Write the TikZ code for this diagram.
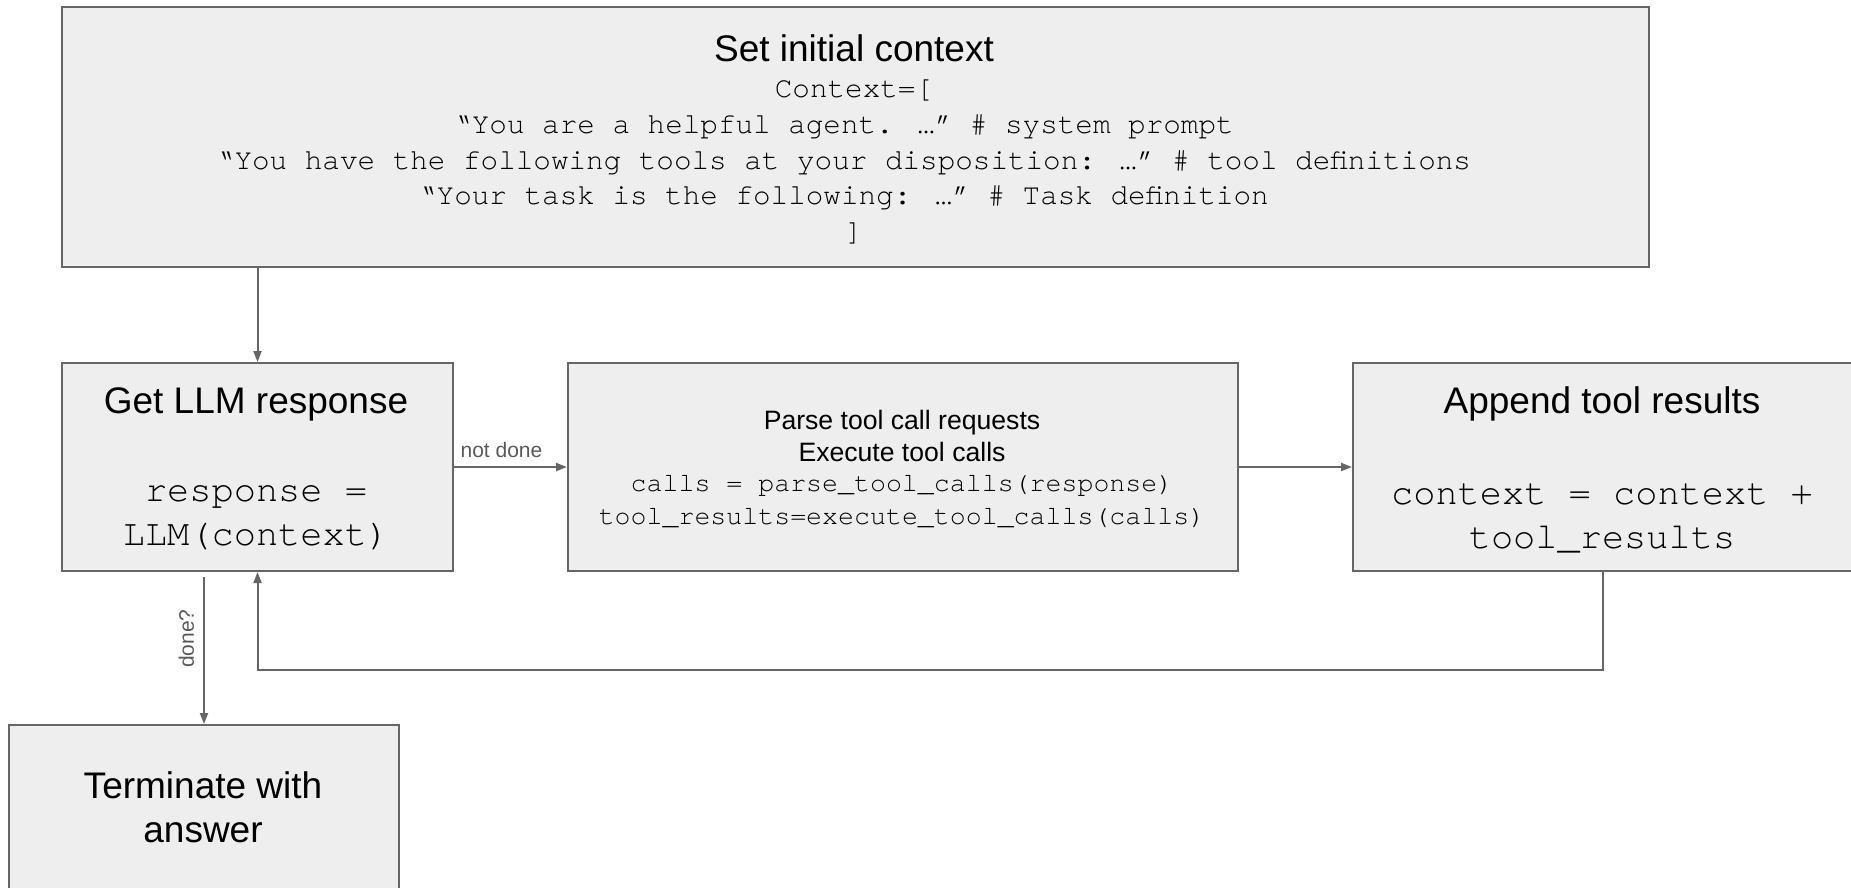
\documentclass[tikz,border=0pt]{standalone}
\usepackage{fontspec}
\setmainfont{Liberation Sans}
\newfontfamily\codefont{TeX Gyre Cursor}
\usetikzlibrary{arrows.meta}
\definecolor{boxfill}{HTML}{EEEEEE}
\definecolor{edgegray}{HTML}{666666}
\definecolor{labelgray}{HTML}{595959}
\tikzset{
  box/.style={draw=edgegray, fill=boxfill, line width=2pt, rectangle,
              inner sep=0pt, anchor=north west},
  bigtitle/.style={font=\fontsize{37}{44}\selectfont, align=center, inner sep=0pt},
  bigcode/.style={font=\codefont\fontsize{37}{44}\selectfont, align=center, inner sep=0pt},
  ctxcode/.style={font=\codefont\fontsize{29.3}{35.8}\selectfont, align=center, inner sep=0pt},
  midsans/.style={font=\fontsize{26.6}{32}\selectfont, align=center, inner sep=0pt},
  midcode/.style={font=\codefont\fontsize{26.6}{33}\selectfont, align=center, inner sep=0pt},
  flow/.style={draw=edgegray, line width=2pt, -{Triangle[length=11pt, width=8pt]}},
  edgelabel/.style={font=\fontsize{21}{24}\selectfont, text=labelgray, inner sep=3pt}
}
% trailing blank cell after a code line
\newcommand{\tailgap}{\mbox{}\hspace*{20pt}\mbox{}}
\begin{document}
\begin{tikzpicture}[x=1pt, y=-1pt]
\useasboundingbox (0,0) rectangle (1851,887);

% boxes
\node[box, minimum width=1587pt, minimum height=260pt] (ctx) at (61,6) {};
\node[box, minimum width=391pt, minimum height=208pt] (llm) at (61,362) {};
\node[box, minimum width=670pt, minimum height=208pt] (mid) at (567,362) {};
\node[box, minimum width=500pt, minimum height=208pt] (app) at (1352,362) {};
\node[box, minimum width=390pt, minimum height=168pt] (term) at (8,724) {};

% box contents
\node[bigtitle] (ctxtitle) at (854,48) {Set initial context};
\node[ctxcode] (ctxlist) at (854,162) {Context=[\\
“You are a helpful agent. …” \# system prompt\tailgap\\
“You have the following tools at your disposition: …” \# tool definitions\tailgap\\
“Your task is the following: …” \# Task definition\tailgap\\
]};

\node[bigtitle] (llmtitle) at (256,404) {Get LLM response};
\node[bigcode] (llmcode) at (256,518) {response =\\LLM(context)};

\node[midsans] (midtitle) at (902,436) {Parse tool call requests\\Execute tool calls};
\node[midcode] (midcode) at (902,502) {calls = parse\_tool\_calls(response)\\tool\_results=execute\_tool\_calls(calls)};

\node[bigtitle] (apptitle) at (1602,404) {Append tool results};
\node[bigcode] (appcode) at (1602,518) {context = context +\\tool\_results};

\node[bigtitle] (termtext) at (203,807) {Terminate with\\answer};

% connectors
\coordinate (loopy) at (0,670);
\draw[flow] (ctx.south -| llm.north) -- (llm.north);
\draw[flow] (llm.east) -- (mid.west)
  node[edgelabel, pos=0.42, above, yshift=5pt] (notdone) {not done};
\draw[flow] (mid.east) -- (app.west);
\draw[flow] (app.south) -- (app.south |- loopy) -| (llm.south);
\draw[flow] ([yshift=-5pt]llm.south -| term.north) -- (term.north)
  node[edgelabel, pos=0.42, rotate=90, anchor=south, yshift=6pt] (done) {done?};
\end{tikzpicture}
\end{document}
